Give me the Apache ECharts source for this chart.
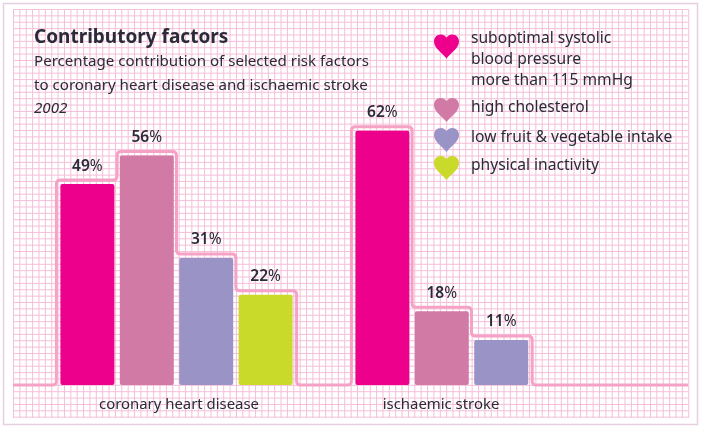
<!DOCTYPE html>
<html><head><meta charset="utf-8">
<style>html,body{margin:0;padding:0;background:#fff}#c{width:702px;height:428px}</style>
<script src="https://cdn.jsdelivr.net/npm/echarts@6/dist/echarts.min.js"></script>
</head><body><div id="c"></div>
<script>
const categories = ['coronary heart disease', 'ischaemic stroke'];
const factors = ['suboptimal systolic\nblood pressure\nmore than 115 mmHg', 'high cholesterol', 'low fruit & vegetable intake', 'physical inactivity'];
const bloodPressure = [49, 62];
const cholesterol = [56, 18];
const fruitVeg = [31, 11];
const inactivity = [22, null];
const colors = ['#EC008C', '#D17AA6', '#9A94C6', '#C9DA2A'];
const ink = '#2a2a38';
const font = '"Noto Sans"';

const allValues = [bloodPressure, cholesterol, fruitVeg, inactivity];
const barW = 54, gapRatio = 0.1, pitch = barW * (1 + gapRatio);
const heart = 'path://M12.5 24C8.5 18.5 0 14 0 7C0 2.8 3 0 6.8 0C9.5 0 11.5 1.3 12.5 3.2C13.5 1.3 15.5 0 18.2 0C22 0 25 2.8 25 7C25 14 16.5 18.5 12.5 24Z';

// decorative graph-paper background
const paper = [];
const gridStyle = {stroke: '#F5BFD8', lineWidth: 1};
for (let k = 0; k <= 106; k++) {
  const x = 13.5 + k * 6.37;
  paper.push({type: 'line', silent: true, z: -10, shape: {x1: x, y1: 9, x2: x, y2: 418}, style: gridStyle});
}
for (let k = 0; k <= 64; k++) {
  const y = 9.5 + k * 6.37;
  paper.push({type: 'line', silent: true, z: -10, shape: {x1: 13, y1: y, x2: 688, y2: y}, style: gridStyle});
}
paper.push({type: 'rect', silent: true, z: -11, shape: {x: 3.5, y: 3.5, width: 694, height: 421}, style: {fill: '#fff', stroke: '#E6CFDF', lineWidth: 1.5}});

function outline(params, api) {
  if (params.dataIndex !== 0) return;
  const base = api.coord([0, 0])[1], off = 4, r = 4;
  const pts = [[13, base]];
  categories.forEach((c, ci) => {
    const cx = api.coord([ci, 0])[0];
    const vals = allValues.map(a => a[ci]).filter(v => v != null);
    vals.forEach((v, i) => {
      const left = cx + (i - 2) * pitch + (pitch - barW) / 2;
      const top = api.coord([ci, v])[1] - off;
      const lx = i === 0 ? left - off : left - (pitch - barW) / 2;
      if (i === 0) pts.push([lx, base]);
      pts.push([lx, top]);
      if (i === vals.length - 1) {
        pts.push([left + barW + off, top]);
        pts.push([left + barW + off, base]);
      } else {
        pts.push([left + barW + (pitch - barW) / 2, top]);
      }
    });
  });
  pts.push([688, base]);
  let d = 'M' + pts[0][0] + ' ' + pts[0][1];
  for (let i = 1; i < pts.length - 1; i++) {
    const [a, b, n] = [pts[i - 1], pts[i], pts[i + 1]];
    const l1 = Math.hypot(b[0] - a[0], b[1] - a[1]), l2 = Math.hypot(n[0] - b[0], n[1] - b[1]);
    const r1 = Math.min(r, l1 / 2), r2 = Math.min(r, l2 / 2);
    const sx = b[0] - (b[0] - a[0]) / l1 * r1, sy = b[1] - (b[1] - a[1]) / l1 * r1;
    const ex = b[0] + (n[0] - b[0]) / l2 * r2, ey = b[1] + (n[1] - b[1]) / l2 * r2;
    d += 'L' + sx + ' ' + sy + 'Q' + b[0] + ' ' + b[1] + ' ' + ex + ' ' + ey;
  }
  d += 'L688 ' + base;
  return {type: 'path', shape: {pathData: d}, style: {fill: 'none', stroke: '#F6A2C7', lineWidth: 3}, silent: true, z2: 0};
}

const legendTops = [7, 98, 128, 156];
const legendSize = 15.6;
const lineStyle = (padding, lineHeight) => ({fontFamily: font, fontSize: legendSize, color: ink, lineHeight, padding});
const chart = echarts.init(document.getElementById('c'), null, {renderer: 'canvas'});
chart.setOption({
  animation: false,
  backgroundColor: 'transparent',
  graphic: {elements: paper},
  title: {
    left: 34, top: 25, itemGap: -1, padding: 0,
    text: 'Contributory factors',
    textStyle: {fontFamily: font, fontSize: 19, fontWeight: 700, color: ink, lineHeight: 26},
    subtext: 'Percentage contribution of selected risk factors\nto coronary heart disease and ischaemic stroke\n{i|2002}',
    subtextStyle: {fontFamily: font, fontSize: 15.1, color: ink, lineHeight: 23.5,
      rich: {i: {fontFamily: font, fontSize: 15.1, fontStyle: 'italic', color: ink, lineHeight: 23.5}}}
  },
  legend: factors.map((f, i) => ({
    data: [f], left: 434, top: legendTops[i], padding: 0,
    orient: 'vertical', selectedMode: false,
    icon: heart, itemWidth: 25, itemHeight: 24,
    formatter: name => (i === 0 ? '{s| }\n' : '') + name.split('\n').map(l => (i === 0 ? '{m|' : '{o|') + l + '}').join('\n'),
    textStyle: {
      fontFamily: font, fontSize: legendSize, color: ink,
      rich: {s: lineStyle([0, 0, 0, 7], 26), m: lineStyle([0, 0, 0, 7], 21), o: lineStyle([0, 0, 4, 7], 21)}
    }
  })),
  grid: {left: 29, right: 83, top: 98, bottom: 43},
  xAxis: {
    type: 'category', data: categories,
    axisLine: {show: false}, axisTick: {show: false}, splitLine: {show: false},
    axisLabel: {
      margin: 12,
      formatter: (v, i) => i === 0 ? '{a|' + v + '}' : '{b|' + v + '}',
      rich: {
        a: {fontFamily: font, fontSize: 14.9, color: ink, padding: [0, 0, 0, 5]},
        b: {fontFamily: font, fontSize: 14.9, color: ink, padding: [0, 61, 0, 0]}
      }
    }
  },
  yAxis: {type: 'value', min: 0, max: 70, show: false},
  series: [
    {type: 'custom', renderItem: outline, data: [[0, 0]], encode: {x: 0, y: 1}, silent: true, z: 1},
    ...allValues.map((vals, i) => ({
      type: 'bar', name: factors[i], data: vals, barWidth: barW, barGap: (gapRatio * 100) + '%', z: 2,
      itemStyle: {color: colors[i], borderRadius: 2},
      label: {
        show: true, position: 'top', distance: 10,
        formatter: p => '{d|' + p.value + '}{p|%}',
        rich: {
          d: {fontFamily: font, fontSize: 15.5, fontWeight: 600, color: ink},
          p: {fontFamily: font, fontSize: 15.5, color: ink}
        }
      }
    }))
  ]
});
</script></body></html>
